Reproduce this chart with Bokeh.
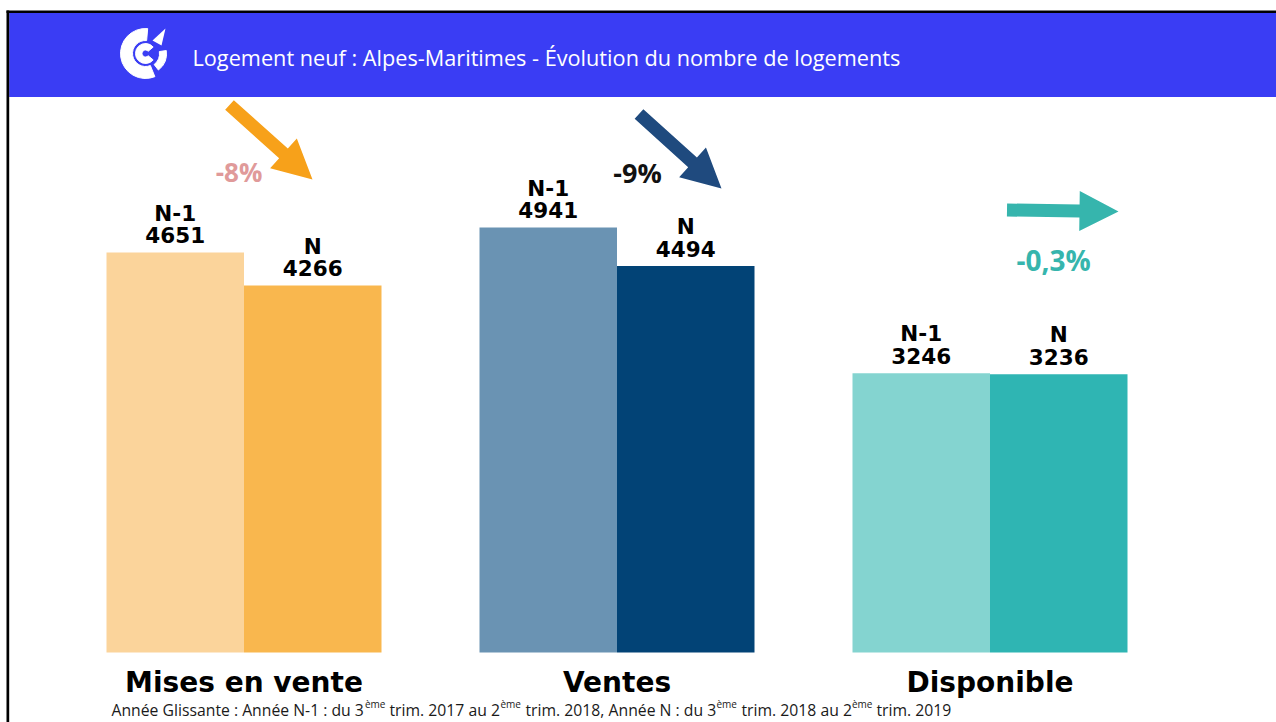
import math
from bokeh.plotting import figure
from bokeh.models import Range1d, ColumnDataSource
from bokeh.embed import file_html
from bokeh.resources import INLINE
from bokeh.core.properties import value

# ---------------- data ----------------
categories = ["Mises en vente", "Ventes", "Disponible"]
series = ["N-1", "N"]
n1_values = [4651, 4941, 3246]
n_values = [4266, 4494, 3236]
pct_labels = ["-8%", "-9%", "-0,3%"]
title_text = "Logement neuf : Alpes-Maritimes - Évolution du nombre de logements"
foot_main = ["Année Glissante : Année N-1 : du 3", "trim. 2017 au 2",
             "trim. 2018, Année N : du 3", "trim. 2018 au 2", "trim. 2019"]
foot_sup = ["ème", "ème", "ème", "ème"]

# ---------------- layout / styles ----------------
W, H = 1276, 722
OFF = 0              # page offset of the figure
BASE = 652           # page y of the value 0
SCALE = 0.086        # px per unit of value
GROUP0 = 243.5       # page x of first group centre
GROUP_STEP = 373
BAR_W = 137.5
TEXT_DY = 8.5        # baseline correction for text glyphs (px)

n1_colors = ["#FBD49B", "#6A93B3", "#84D4D0"]
n_colors = ["#F9B74E", "#024376", "#2FB5B3"]
pct_colors = ["#E09A9A", "#111111", "#36B5AD"]
arrow_colors = ["#F7A11A", "#1F4A7E", "#36B5AD"]
pct_pos = [(238.5, 180), (637, 180), (1053, 268)]          # page coords (centre, baseline)
pct_sizes = ["26px", "27px", "28px"]
arrow_geom = [((229, 104.5), (312, 179)),
              ((638.5, 113.5), (721, 188)),
              ((1006.5, 209.5), (1118, 211))]
foot_main_x = [111, 389, 525, 741, 876]
foot_sup_x = [364.5, 500, 716, 851.5]


def X(px):
    return px - OFF


def Y(py):
    return (BASE - py) / SCALE


def YT(py):
    return Y(py - TEXT_DY)


p = figure(width=W, height=H, output_backend="svg", toolbar_location=None,
           x_range=Range1d(0, W), y_range=Range1d(Y(OFF + H), Y(OFF)),
           x_axis_type=None, y_axis_type=None, min_border=0,
           background_fill_color="white", border_fill_color="white")
p.outline_line_color = None
p.grid.visible = False

# ---------------- header ----------------
p.quad(left=[X(8.7)], right=[X(1276)], top=[Y(12.5)], bottom=[Y(96.5)],
       fill_color="#3A3DF4", line_color=None)
p.quad(left=[X(6)], right=[X(1276)], top=[Y(10)], bottom=[Y(12.5)],
       fill_color="#000000", line_color=None)
p.quad(left=[X(6)], right=[X(8.7)], top=[Y(10)], bottom=[Y(722)],
       fill_color="#000000", line_color=None)

# logo
cx, cy = X(145), Y(53)
p.annular_wedge(x=[cx], y=[cy], inner_radius=13, outer_radius=25,
                start_angle=math.radians(85), end_angle=math.radians(292),
                inner_radius_units="screen", outer_radius_units="screen",
                color="white")
p.annular_wedge(x=[cx], y=[cy], inner_radius=14, outer_radius=21,
                start_angle=math.radians(-52), end_angle=math.radians(8),
                inner_radius_units="screen", outer_radius_units="screen",
                color="white")
p.annular_wedge(x=[cx], y=[cy], inner_radius=3.5, outer_radius=10,
                start_angle=math.radians(40), end_angle=math.radians(320),
                inner_radius_units="screen", outer_radius_units="screen",
                color="white")
p.patch(x=[X(152), X(165), X(161)], y=[Y(40), Y(28), Y(45)],
        fill_color="white", line_color=None)

p.text(x=[X(192)], y=[YT(65.5)], text=[title_text], text_color="white",
       text_font=value("Open Sans"), text_font_size="21.7px",
       text_align="left", text_baseline="alphabetic")

# ---------------- bars ----------------
centers = [GROUP0 + i * GROUP_STEP for i in range(len(categories))]
src = ColumnDataSource(dict(
    x1=[X(c - BAR_W / 2) for c in centers],
    x2=[X(c + BAR_W / 2) for c in centers],
    v1=n1_values, v2=n_values, c1=n1_colors, c2=n_colors,
    cx=[X(c) for c in centers],
    l1=[series[0]] * 3, l2=[series[1]] * 3,
    t1=[str(v) for v in n1_values], t2=[str(v) for v in n_values],
    y1num=[v + (9 + TEXT_DY) / SCALE for v in n1_values],
    y1lab=[v + (31 + TEXT_DY) / SCALE for v in n1_values],
    y2num=[v + (9 + TEXT_DY) / SCALE for v in n_values],
    y2lab=[v + (31 + TEXT_DY) / SCALE for v in n_values],
    cat=categories, caty=[YT(690)] * 3,
))
p.vbar(x="x1", top="v1", bottom=0, width=BAR_W, fill_color="c1", line_color=None, source=src)
p.vbar(x="x2", top="v2", bottom=0, width=BAR_W, fill_color="c2", line_color=None, source=src)

lab_kw = dict(text_font=value("DejaVu Sans"), text_font_style="bold", text_font_size="21.5px",
              text_align="center", text_baseline="alphabetic", text_color="#000000", source=src)
p.text(x="x1", y="y1num", text="t1", **lab_kw)
p.text(x="x1", y="y1lab", text="l1", **lab_kw)
p.text(x="x2", y="y2num", text="t2", **lab_kw)
p.text(x="x2", y="y2lab", text="l2", **lab_kw)

p.text(x="cx", y="caty", text="cat", text_font=value("DejaVu Sans"), text_font_style="bold",
       text_font_size="28px", text_align="center", text_baseline="alphabetic",
       text_color="#000000", source=src)

# ---------------- arrows & percentages ----------------
def arrow_poly(tail, tip, shaft=13, hlen=39, hwid=40):
    dx, dy = tip[0] - tail[0], tip[1] - tail[1]
    L = math.hypot(dx, dy)
    ux, uy = dx / L, dy / L
    nx, ny = -uy, ux
    bx, by = tip[0] - ux * hlen, tip[1] - uy * hlen
    pts = [(tail[0] + nx * shaft / 2, tail[1] + ny * shaft / 2),
           (bx + nx * shaft / 2, by + ny * shaft / 2),
           (bx + nx * hwid / 2, by + ny * hwid / 2),
           tip,
           (bx - nx * hwid / 2, by - ny * hwid / 2),
           (bx - nx * shaft / 2, by - ny * shaft / 2),
           (tail[0] - nx * shaft / 2, tail[1] - ny * shaft / 2)]
    return [X(a) for a, b in pts], [Y(b) for a, b in pts]


for (tail, tip), col in zip(arrow_geom, arrow_colors):
    xs, ys = arrow_poly(tail, tip)
    p.patch(x=xs, y=ys, fill_color=col, line_color=None)

for lab, (px, py), col, fs in zip(pct_labels, pct_pos, pct_colors, pct_sizes):
    p.text(x=[X(px)], y=[YT(py)], text=[lab], text_color=col,
           text_font=value("Open Sans"), text_font_style="bold", text_font_size=fs,
           text_align="center", text_baseline="alphabetic")

# ---------------- footnote ----------------
p.text(x=[X(v) for v in foot_main_x], y=[YT(718)] * len(foot_main), text=foot_main,
       text_font=value("Open Sans"), text_font_size="15.75px", text_color="#1a1a1a",
       text_align="left", text_baseline="alphabetic")
p.text(x=[X(v) for v in foot_sup_x], y=[YT(712)] * len(foot_sup), text=foot_sup,
       text_font=value("Open Sans"), text_font_size="10px", text_color="#1a1a1a",
       text_align="left", text_baseline="alphabetic")

open("out.html", "w").write(file_html(p, INLINE))
